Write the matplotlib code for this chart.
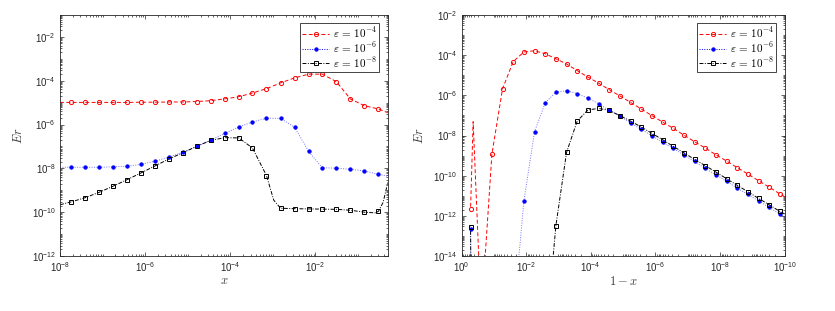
import numpy as np
import matplotlib
matplotlib.use('Agg')
import matplotlib.pyplot as plt
from matplotlib.ticker import LogLocator, FixedLocator, FuncFormatter, NullFormatter
from matplotlib.lines import Line2D

plt.rcParams['font.family'] = ['Liberation Sans', 'DejaVu Sans']
plt.rcParams['mathtext.fontset'] = 'cm'

# ---------------- data (log10 values) ----------------
labels = [r'$\varepsilon\,=\,10^{-4}$', r'$\varepsilon\,=\,10^{-6}$', r'$\varepsilon\,=\,10^{-8}$']

# left panel: marker x positions (log10 x)
left_x = [-7.74, -7.41, -7.08, -6.76, -6.43, -6.10, -5.77, -5.44, -5.12, -4.79, -4.46,
          -4.13, -3.80, -3.48, -3.15, -2.82, -2.49, -2.16, -1.84, -1.51, -1.18, -0.85, -0.52]
left_red = [-4.99, -4.99, -4.99, -4.99, -4.99, -4.98, -4.98, -4.97, -4.97, -4.95, -4.91,
            -4.83, -4.73, -4.56, -4.36, -4.10, -3.87, -3.70, -3.70, -4.04, -4.83, -5.14, -5.29]
left_blue = [-7.95, -7.95, -7.95, -7.93, -7.90, -7.82, -7.67, -7.49, -7.27, -6.99, -6.72,
             -6.40, -6.11, -5.88, -5.71, -5.72, -6.12, -7.23, -7.97, -7.99, -8.04, -8.12, -8.27]
left_black = [-9.53, -9.34, -9.09, -8.82, -8.52, -8.21, -7.89, -7.57, -7.29, -7.00, -6.72,
              -6.60, -6.61, -7.07, -8.33, -9.82, -9.84, -9.85, -9.86, -9.87, -9.91, -10.00, -9.96]
# extra points of the curves between / beyond markers (log10 x, log10 y)
left_red_extra_x = [-8.0, -0.301]
left_red_extra_y = [-4.99, -5.46]
left_blue_extra_x = [-8.0, -0.301]
left_blue_extra_y = [-7.95, -8.36]
left_black_extra_x = [-8.0, -2.98, -0.60, -0.41, -0.301]
left_black_extra_y = [-9.66, -9.45, -10.03, -9.55, -8.65]

# right panel: marker positions (log10 (1-x))
right_x = [-0.28, -0.61, -0.94, -1.27, -1.60, -1.93, -2.26, -2.59, -2.92, -3.25,
           -3.58, -3.91, -4.24, -4.57, -4.90, -5.23, -5.56, -5.89, -6.22, -6.55,
           -6.88, -7.21, -7.54, -7.87, -8.20, -8.53, -8.86, -9.19, -9.52, -9.85]
right_red = [-11.66, -17.0, -8.94, -5.67, -4.32, -3.84, -3.78, -3.93, -4.18, -4.44,
             -4.77, -5.09, -5.39, -5.72, -6.03, -6.35, -6.68, -7.01, -7.33, -7.64,
             -7.98, -8.31, -8.62, -8.96, -9.27, -9.60, -9.92, -10.25, -10.57, -10.91]
right_blue = [-12.66, -18.0, -18.0, -18.0, -18.0, -11.26, -7.81, -6.37, -5.84, -5.77,
              -5.91, -6.14, -6.42, -6.75, -7.03, -7.38, -7.69, -8.01, -8.34, -8.64,
              -8.97, -9.29, -9.64, -9.95, -10.28, -10.62, -10.93, -11.26, -11.58, -11.91]
right_black = [-12.54, -18.0, -18.0, -18.0, -18.0, -18.0, -18.0, -18.0, -12.49, -8.84,
               -7.28, -6.73, -6.65, -6.75, -7.01, -7.28, -7.58, -7.89, -8.21, -8.54,
               -8.86, -9.19, -9.50, -9.82, -10.15, -10.48, -10.80, -11.13, -11.45, -11.78]
right_red_extra_x = [-0.36, -10.0]
right_red_extra_y = [-7.31, -11.05]
right_blue_extra_x = [-0.29, -1.76, -10.0]
right_blue_extra_y = [-15.0, -14.3, -12.04]
right_black_extra_x = [-0.29, -2.82, -10.0]
right_black_extra_y = [-15.0, -14.3, -11.91]

# ---------------- styles ----------------
colors = ['#ff0000', '#0000ff', '#000000']
linestyles = [(0, (4.0, 2.5)), (0, (1.0, 1.5)), (0, (4.0, 1.5, 1.0, 1.5))]
markers = ['o', 'o', 's']
mfcs = ['none', '#0000ff', 'none']
msizes = [3.0, 2.4, 2.6]
line_alpha = [1.0, 0.55, 1.0]

def merged(xm, ym, xe, ye):
    x = np.array(list(xm) + list(xe))
    y = np.array(list(ym) + list(ye))
    idx = np.argsort(x)
    return 10.0 ** x[idx], 10.0 ** y[idx]

def fmt(v, pos):
    e = int(round(np.log10(v)))
    return r'$\mathregular{10^{%d}}$' % e

fig = plt.figure(figsize=(8.35, 3.11), dpi=100)
ax1 = fig.add_axes([0.0719, 0.1768, 0.3925, 0.775])
ax2 = fig.add_axes([0.5527, 0.1768, 0.3871, 0.775])

left_sets = [(left_red, left_red_extra_x, left_red_extra_y),
             (left_blue, left_blue_extra_x, left_blue_extra_y),
             (left_black, left_black_extra_x, left_black_extra_y)]
right_sets = [(right_red, right_red_extra_x, right_red_extra_y),
              (right_blue, right_blue_extra_x, right_blue_extra_y),
              (right_black, right_black_extra_x, right_black_extra_y)]

for ax, xm, sets in [(ax1, left_x, left_sets), (ax2, right_x, right_sets)]:
    for i, (ym, xe, ye) in enumerate(sets):
        lx, ly = merged(xm, ym, xe, ye)
        ax.plot(lx, ly, color=colors[i], ls=linestyles[i], lw=0.7, alpha=line_alpha[i], zorder=2)
        ax.plot(10.0 ** np.array(xm), 10.0 ** np.array(ym), ls='none', marker=markers[i],
                ms=msizes[i], mfc=mfcs[i], mec=colors[i], mew=0.7, zorder=3)

handles = [Line2D([], [], color=colors[i], ls=linestyles[i], lw=0.7, marker=markers[i],
                  ms=msizes[i], mfc=mfcs[i], mec=colors[i], mew=0.7) for i in range(3)]

ax1.set_xscale('log'); ax1.set_yscale('log')
ax2.set_xscale('log'); ax2.set_yscale('log')
ax1.set_xlim(1e-8, 0.5)
ax1.set_ylim(1e-12, 1e-1)
ax2.set_xlim(1e0, 1e-10)
ax2.set_ylim(1e-14, 1e-2)

ax1.xaxis.set_major_locator(FixedLocator([1e-8, 1e-6, 1e-4, 1e-2]))
ax1.yaxis.set_major_locator(FixedLocator([1e-12, 1e-10, 1e-8, 1e-6, 1e-4, 1e-2]))
ax2.xaxis.set_major_locator(FixedLocator([1e0, 1e-2, 1e-4, 1e-6, 1e-8, 1e-10]))
ax2.yaxis.set_major_locator(FixedLocator([1e-14, 1e-12, 1e-10, 1e-8, 1e-6, 1e-4, 1e-2]))

for ax in (ax1, ax2):
    for axis in (ax.xaxis, ax.yaxis):
        axis.set_major_formatter(FuncFormatter(fmt))
        axis.set_minor_locator(LogLocator(base=10, subs=np.arange(1, 10), numticks=200))
        axis.set_minor_formatter(NullFormatter())
    ax.tick_params(which='both', direction='in', top=True, right=True, width=0.5,
                   colors='#262626', labelsize=7, pad=3)
    ax.tick_params(which='major', length=3.0)
    ax.tick_params(which='minor', length=1.6)
    for s in ax.spines.values():
        s.set_linewidth(0.6)
        s.set_color('#262626')
    ax.set_ylabel(r'$Er$', fontsize=9, color='#404040', labelpad=5)
    leg = ax.legend(handles, labels, loc='upper right', fontsize=8, handlelength=2.4,
                    fancybox=False, framealpha=1, edgecolor='#262626', borderaxespad=0.75,
                    borderpad=0.2, labelspacing=0.0, handletextpad=0.35)
    leg.get_frame().set_linewidth(0.6)

ax1.set_xlabel(r'$x$', fontsize=9, color='#404040', labelpad=1)
ax2.set_xlabel(r'$1-x$', fontsize=9, color='#404040', labelpad=1)

fig.savefig('out.png', dpi=100)
